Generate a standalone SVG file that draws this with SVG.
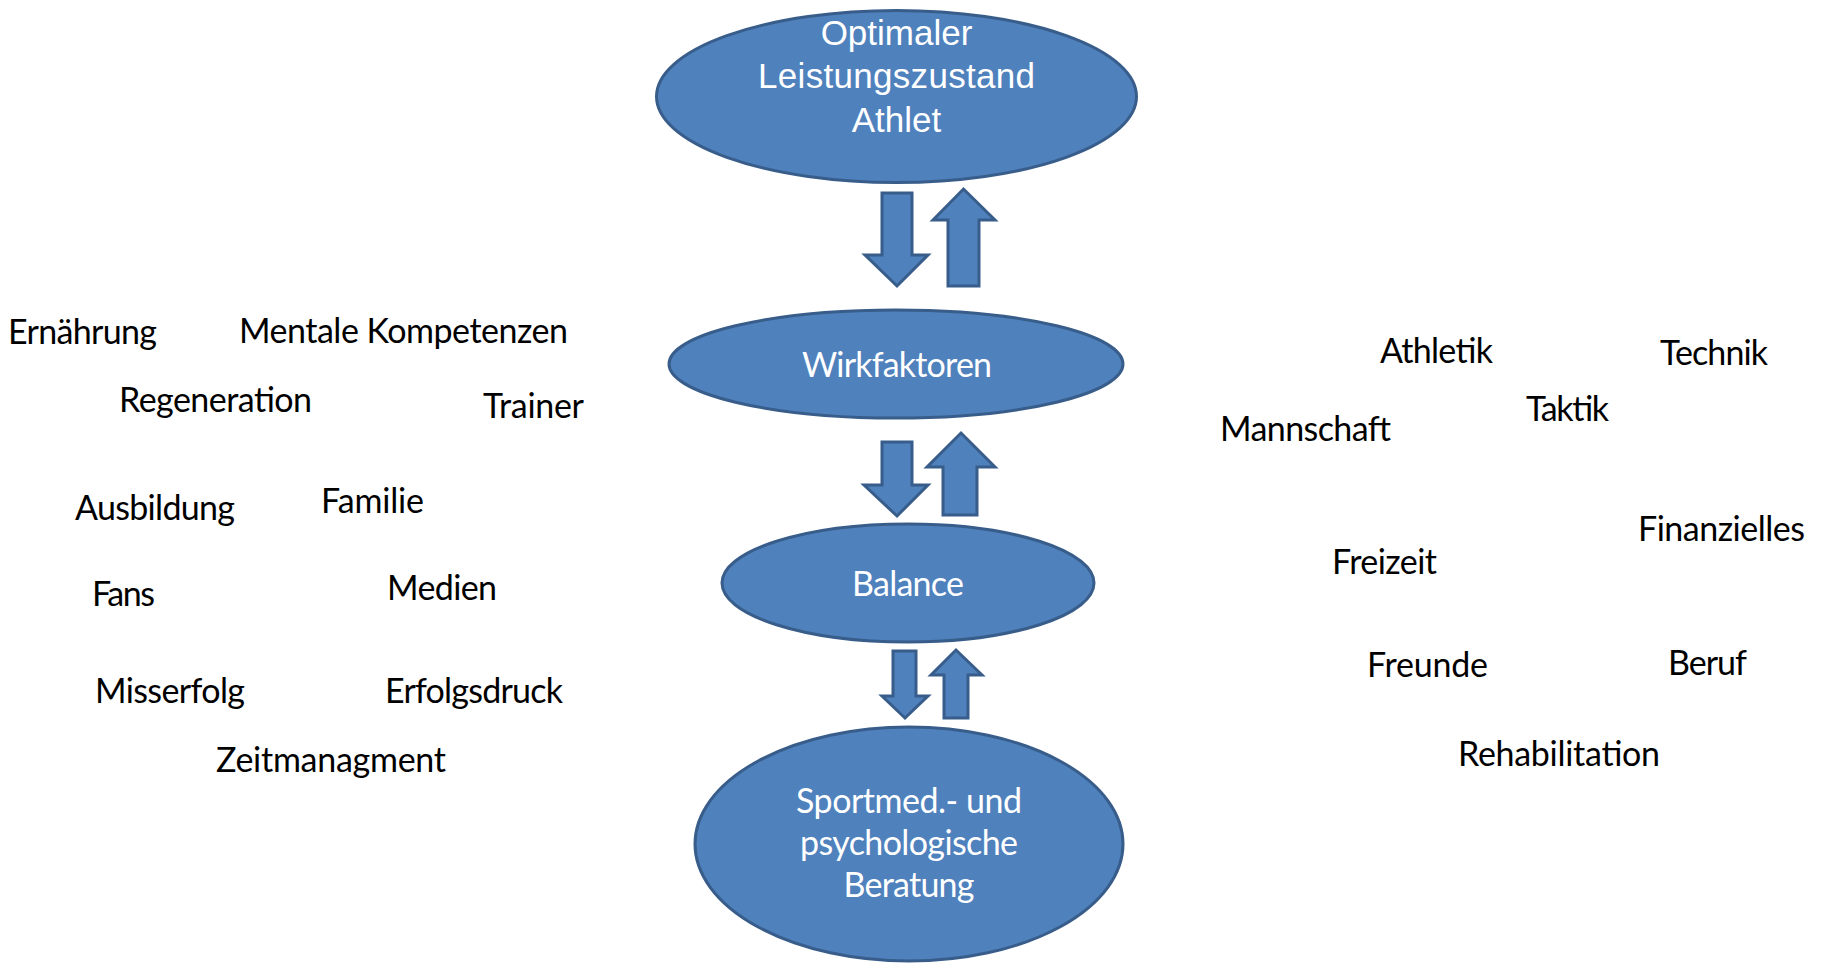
<svg xmlns="http://www.w3.org/2000/svg" width="1825" height="966" viewBox="0 0 1825 966">
<style>
.node{fill:#4f81bd;stroke:#385d8a;stroke-width:3}
.arr{fill:#4f81bd;stroke:#385d8a;stroke-width:3;stroke-linejoin:miter}
.t1{font-family:"Liberation Sans",Arial,sans-serif;font-size:35px;fill:#fff;text-anchor:middle}
.t2{font-family:Lato,"Open Sans",sans-serif;font-size:34px;fill:#fff;text-anchor:middle}
.lbl{font-family:Lato,"Open Sans",sans-serif;font-size:34px;fill:#000}
</style>
<rect width="1825" height="966" fill="#fff"/>
<g id="node-optimal">
<ellipse class="node" cx="896.5" cy="96.5" rx="240" ry="86"/>
<text class="t1" x="896.5" y="45">Optimaler</text>
<text class="t1" x="896.5" y="88" textLength="277">Leistungszustand</text>
<text class="t1" x="896.5" y="132">Athlet</text>
</g>
<g id="node-wirkfaktoren">
<ellipse class="node" cx="896" cy="364" rx="227" ry="54"/>
<text class="t2" x="897" y="377" textLength="190">Wirkfaktoren</text>
</g>
<g id="node-balance">
<ellipse class="node" cx="908" cy="583" rx="186" ry="59"/>
<text class="t2" x="908" y="596" textLength="112">Balance</text>
</g>
<g id="node-beratung">
<ellipse class="node" cx="909" cy="844" rx="214" ry="117"/>
<text class="t2" x="909" y="813" textLength="226">Sportmed.- und</text>
<text class="t2" x="909" y="855" textLength="218">psychologische</text>
<text class="t2" x="909" y="897" textLength="131">Beratung</text>
</g>
<g id="connectors">
<path class="arr" d="M882,193 H912 V255 H928 L897,286 L865,255 H882 Z"/>
<path class="arr" d="M948,286 V220 H933 L963.5,189 L995,220 H979 V286 Z"/>
<path class="arr" d="M882,442 H912 V485 H928 L897,516 L864,485 H882 Z"/>
<path class="arr" d="M943,515 V467 H927 L961,433 L995,467 H977 V515 Z"/>
<path class="arr" d="M893,651 H916 V696 H928 L905,718 L882,696 H893 Z"/>
<path class="arr" d="M944,718 V675 H931 L956,650 L982,675 H968 V718 Z"/>
</g>
<g id="labels-left">
<text class="lbl" x="8" y="344" textLength="149">Ernährung</text>
<text class="lbl" x="239" y="343" textLength="329">Mentale Kompetenzen</text>
<text class="lbl" x="119" y="412" textLength="193">Regeneration</text>
<text class="lbl" x="483" y="418" textLength="101">Trainer</text>
<text class="lbl" x="75" y="520" textLength="160">Ausbildung</text>
<text class="lbl" x="321" y="513" textLength="103">Familie</text>
<text class="lbl" x="92" y="606" textLength="63">Fans</text>
<text class="lbl" x="387" y="600" textLength="110">Medien</text>
<text class="lbl" x="95" y="703" textLength="150">Misserfolg</text>
<text class="lbl" x="385" y="703" textLength="178">Erfolgsdruck</text>
<text class="lbl" x="216" y="772" textLength="230">Zeitmanagment</text>
</g>
<g id="labels-right">
<text class="lbl" x="1380" y="363" textLength="113">Athletik</text>
<text class="lbl" x="1660" y="365" textLength="108">Technik</text>
<text class="lbl" x="1526" y="421" textLength="83">Taktik</text>
<text class="lbl" x="1220" y="441" textLength="171">Mannschaft</text>
<text class="lbl" x="1638" y="541" textLength="167">Finanzielles</text>
<text class="lbl" x="1332" y="574" textLength="105">Freizeit</text>
<text class="lbl" x="1367" y="677" textLength="121">Freunde</text>
<text class="lbl" x="1668" y="675" textLength="79">Beruf</text>
<text class="lbl" x="1458" y="766" textLength="202">Rehabilitation</text>
</g>
</svg>
